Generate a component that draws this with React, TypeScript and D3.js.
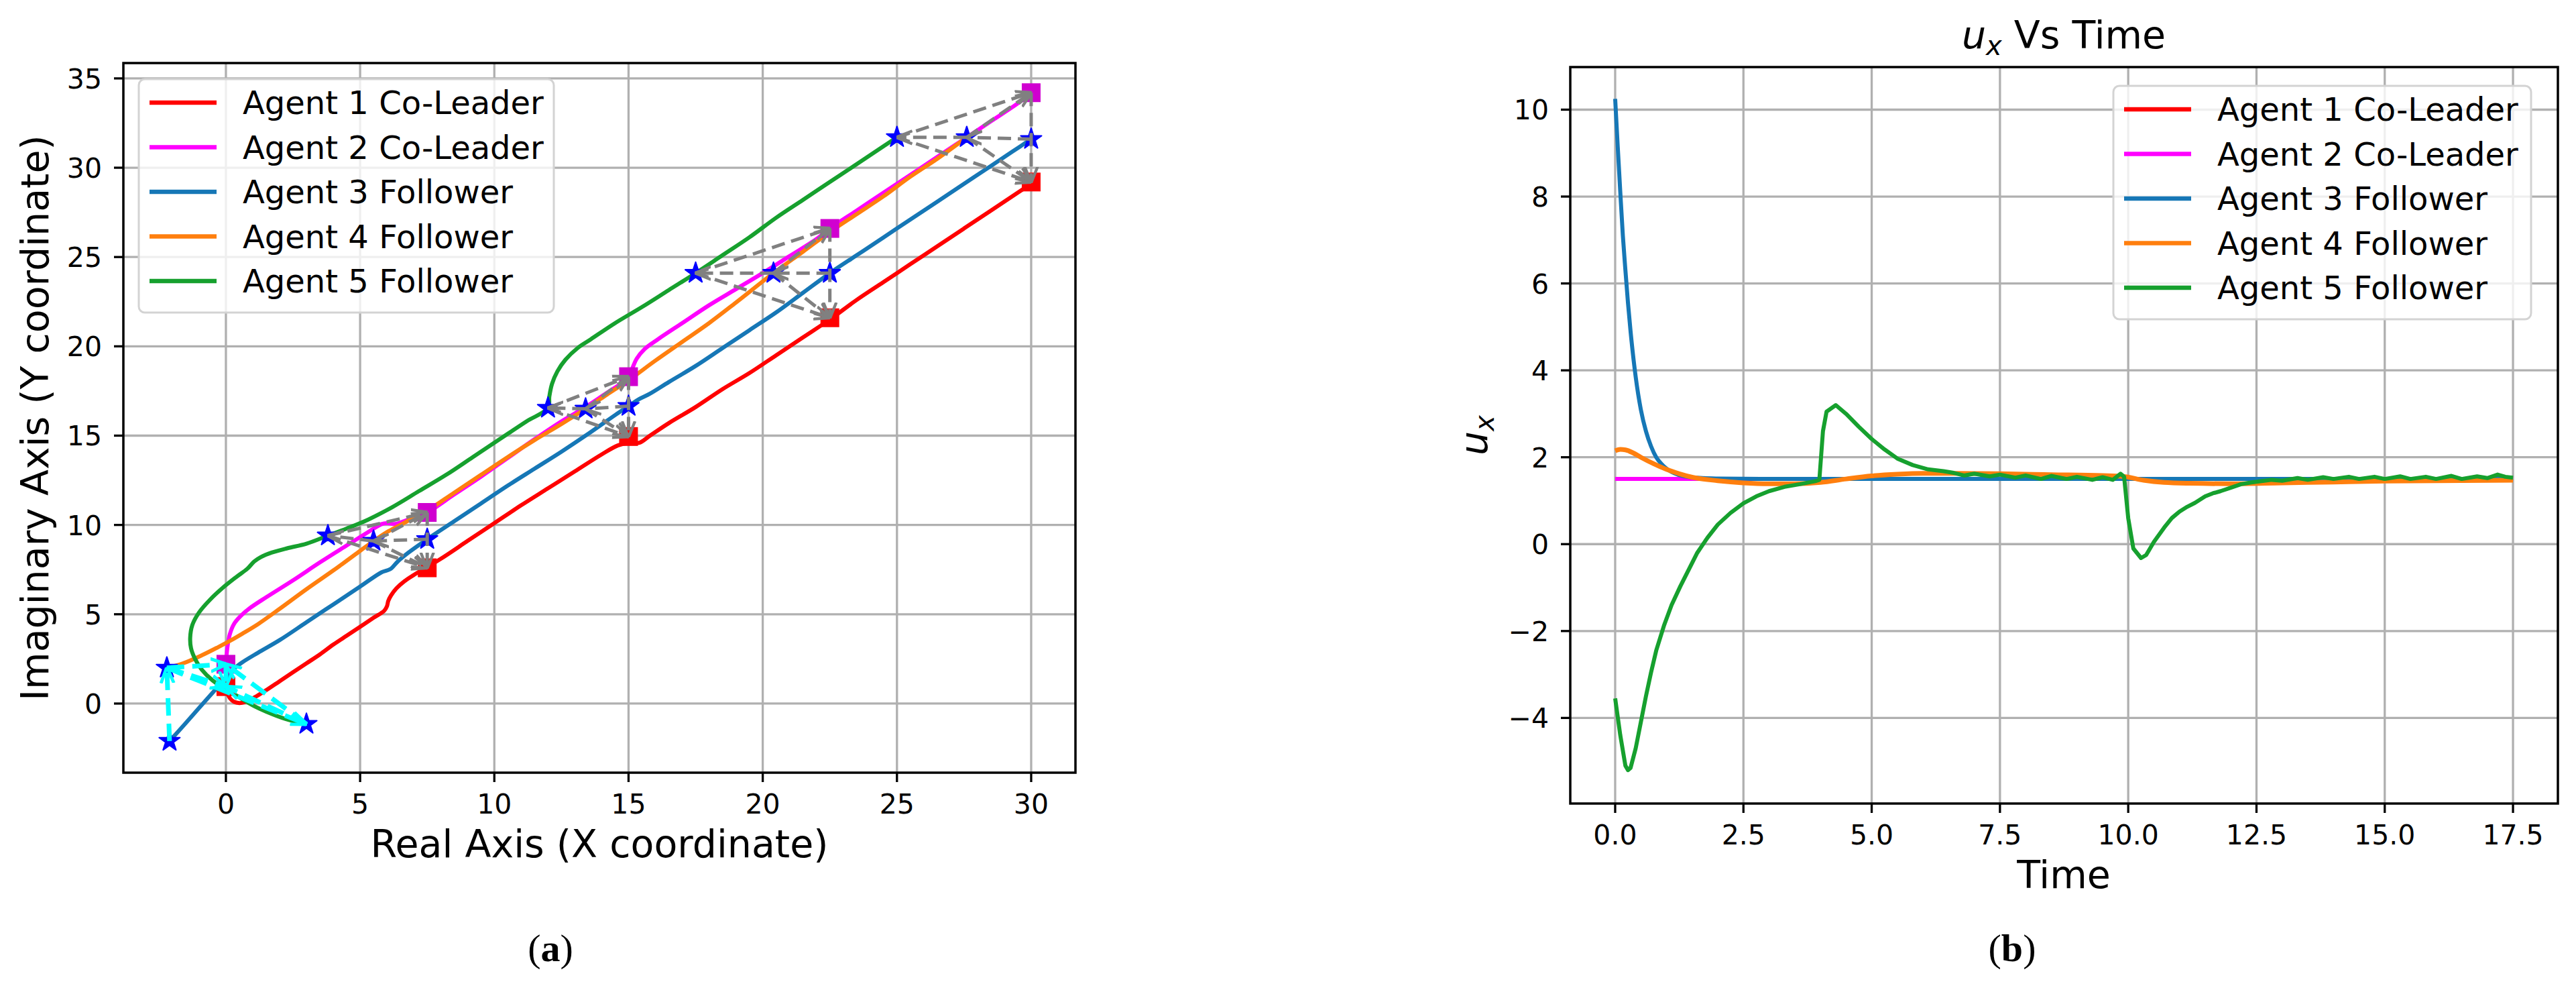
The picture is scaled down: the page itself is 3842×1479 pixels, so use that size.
import React from "react";
import * as d3 from "d3";

const FONT = "'DejaVu Sans', 'Liberation Sans', sans-serif";
const SERIF = "'Liberation Serif', 'DejaVu Serif', serif";

type P = [number, number];

// ---------- shared legend ----------
const agentLabels = ["Agent 1 Co-Leader", "Agent 2 Co-Leader", "Agent 3 Follower", "Agent 4 Follower", "Agent 5 Follower"];
const agentColors = ["#ff0000", "#ff00ff", "#1677b6", "#ff7f0e", "#16a02e"];

// ---------- panel (a): trajectories ----------
const trajAgent1: P[] = [[0,0.95],[0.05,0.6],[0.15,0.3],[0.3,0.1],[0.5,0.03],[0.7,0.08],[0.9,0.22],[1.15,0.42],[1.5,0.75],[2,1.25],[2.5,1.75],[3,2.25],[3.5,2.75],[4,3.3],[4.5,3.8],[5,4.3],[5.5,4.8],[5.9,5.2],[6.0,5.45],[6.05,5.75],[6.15,6.05],[6.35,6.45],[6.65,6.85],[7.0,7.2],[7.5,7.65],[8,8.1],[9,9.1],[10,10.1],[11,11.1],[12,12.05],[13,13.0],[14,13.95],[14.6,14.45],[15,14.6],[15.4,14.6],[15.8,15.0],[16.5,15.7],[17.5,16.6],[18.5,17.6],[19.5,18.5],[20.5,19.5],[21.5,20.5],[22.5,21.5],[23.5,22.6],[24.5,23.6],[25.5,24.6],[26.5,25.6],[27.5,26.6],[28.5,27.6],[29.5,28.6],[30,29.1]];
const trajAgent2: P[] = [[0,2.2],[0.03,2.8],[0.08,3.4],[0.15,3.9],[0.3,4.45],[0.55,4.9],[0.9,5.35],[1.5,5.95],[2.5,6.9],[3.5,7.9],[4.5,8.85],[5.3,9.6],[5.8,10.05],[6.0,10.1],[6.3,10.05],[6.7,10.25],[7.1,10.5],[7.5,10.7],[8.5,11.7],[9.5,12.7],[10.5,13.75],[11.5,14.8],[12.5,15.8],[13.4,16.6],[14.2,17.4],[14.8,18.0],[15.0,18.3],[15.15,18.8],[15.3,19.3],[15.6,19.85],[16.1,20.4],[17,21.3],[18,22.3],[19,23.2],[20,24.1],[21,25.05],[22,26.0],[22.5,26.6],[23.5,27.6],[24.5,28.6],[25.5,29.6],[26.5,30.6],[27.5,31.6],[28.5,32.6],[29.5,33.6],[30,34.2]];
const trajAgent3: P[] = [[-2.1,-2.1],[-1.5,-1.1],[-1,-0.25],[-0.5,0.6],[0,1.45],[0.3,1.95],[0.6,2.3],[1.2,2.85],[2,3.55],[3,4.55],[4,5.55],[5,6.55],[5.8,7.35],[6.0,7.45],[6.15,7.55],[6.4,7.95],[6.8,8.45],[7.5,9.2],[8.5,10.2],[9.5,11.2],[10.5,12.2],[11.5,13.15],[12.5,14.1],[13.5,15.1],[14.5,16.15],[15,16.65],[15.4,17.05],[15.8,17.35],[16.5,18.0],[17.5,18.9],[18.5,19.9],[19.5,20.9],[20.5,21.9],[21.5,23.0],[22.5,24.1],[23.5,25.1],[24.5,26.1],[25.5,27.1],[26.5,28.1],[27.5,29.1],[28.5,30.1],[29.3,30.9],[30,31.6]];
const trajAgent4: P[] = [[-2.2,2.0],[-1.6,2.25],[-0.9,2.7],[-0.3,3.15],[0.2,3.55],[0.6,3.9],[1.2,4.45],[2,5.3],[3,6.4],[4,7.45],[5,8.55],[5.5,9.1],[6,9.6],[6.5,10.0],[7,10.4],[7.5,10.8],[8.5,11.8],[9.5,12.8],[10.5,13.8],[11.5,14.75],[12.5,15.65],[13.4,16.5],[14.2,17.3],[15,18.1],[16,19.2],[17,20.25],[18,21.3],[19,22.45],[20.4,24.1],[21.5,25.3],[22.5,26.4],[23.5,27.4],[24.5,28.4],[25.5,29.5],[26.5,30.5],[27.6,31.7]];
const trajAgent5: P[] = [[3.0,-1.15],[2.2,-0.85],[1.5,-0.45],[1.0,-0.1],[0.5,0.35],[0,0.8],[-0.5,1.3],[-0.9,1.9],[-1.15,2.5],[-1.3,3.1],[-1.33,3.7],[-1.25,4.4],[-1.0,5.1],[-0.6,5.8],[-0.1,6.5],[0.4,7.1],[0.8,7.55],[1.05,7.95],[1.3,8.2],[1.7,8.45],[2.3,8.7],[3.0,8.95],[3.8,9.4],[4.5,9.8],[5.3,10.3],[6.2,11.0],[7.2,11.9],[8.2,12.8],[9.2,13.8],[10.2,14.8],[11.2,15.8],[12.0,16.55],[12.05,17.2],[12.15,17.9],[12.35,18.6],[12.65,19.25],[13.1,19.9],[13.6,20.4],[14.5,21.3],[15.5,22.2],[16.5,23.15],[17.5,24.1],[18.5,25.1],[19.5,26.1],[20.5,27.2],[21.5,28.2],[22.5,29.2],[23.5,30.2],[24.5,31.2],[25.0,31.7]];

// formation snapshots (positions of each agent at 5 instants)
const snapAgent1: P[] = [[0,0.95],[7.5,7.6],[15,14.95],[22.5,21.6],[30,29.2]];
const snapAgent2: P[] = [[0,2.2],[7.5,10.7],[15,18.3],[22.5,26.6],[30,34.2]];
const snapAgent3: P[] = [[-2.1,-2.1],[7.5,9.2],[15,16.65],[22.5,24.1],[30,31.6]];
const snapAgent4: P[] = [[-2.2,2.0],[5.5,9.1],[13.4,16.5],[20.4,24.1],[27.6,31.7]];
const snapAgent5: P[] = [[3.0,-1.15],[3.8,9.4],[12.0,16.55],[17.5,24.1],[25.0,31.7]];
// directed formation edges (agent numbers)
const formationEdges: [number, number][] = [[5,2],[4,2],[3,4],[4,5],[5,1],[4,1],[2,1]];

const xTicksA = [0, 5, 10, 15, 20, 25, 30];
const yTicksA = [0, 5, 10, 15, 20, 25, 30, 35];

// ---------- panel (b): u_x vs time ----------
const uxAgent1: P[] = [[0,1.5],[17.5,1.5]];
const uxAgent2: P[] = [[0,1.5],[17.5,1.5]];
const uxAgent3: P[] = [[0,10.25],[0.05,9.15],[0.1,8.1],[0.15,7.1],[0.2,6.3],[0.25,5.55],[0.3,4.9],[0.4,3.85],[0.5,3.1],[0.6,2.6],[0.7,2.25],[0.8,2.0],[0.9,1.85],[1.0,1.74],[1.2,1.61],[1.4,1.55],[1.7,1.52],[2,1.51],[3,1.5],[17.5,1.5]];
const uxAgent4: P[] = [[0,2.15],[0.1,2.18],[0.2,2.17],[0.35,2.1],[0.5,2.0],[0.75,1.85],[1.0,1.72],[1.25,1.62],[1.5,1.54],[2.0,1.46],[2.5,1.41],[3.0,1.39],[3.5,1.39],[4.0,1.42],[4.5,1.5],[5.0,1.57],[5.5,1.61],[6.0,1.63],[6.5,1.63],[7.5,1.62],[8.5,1.6],[9.5,1.58],[9.9,1.56],[10.3,1.47],[10.7,1.42],[11.2,1.4],[12,1.39],[13,1.41],[14,1.43],[15,1.45],[16,1.46],[17.5,1.47]];
const uxAgent5: P[] = [[0,-3.55],[0.1,-4.4],[0.2,-5.1],[0.25,-5.2],[0.3,-5.15],[0.4,-4.7],[0.5,-4.1],[0.6,-3.5],[0.7,-2.95],[0.8,-2.45],[0.95,-1.88],[1.1,-1.4],[1.27,-0.97],[1.45,-0.55],[1.6,-0.2],[1.8,0.15],[2.0,0.45],[2.25,0.72],[2.5,0.94],[2.75,1.1],[3.0,1.22],[3.3,1.32],[3.6,1.38],[3.9,1.45],[3.98,1.48],[4.05,2.6],[4.12,3.05],[4.3,3.2],[4.5,3.0],[4.75,2.7],[5.0,2.42],[5.25,2.18],[5.5,1.97],[5.8,1.82],[6.1,1.72],[6.4,1.68],[6.6,1.64],[6.8,1.58],[7.0,1.62],[7.3,1.56],[7.5,1.6],[7.8,1.53],[8.0,1.58],[8.3,1.5],[8.5,1.57],[8.8,1.5],[9.0,1.55],[9.3,1.48],[9.5,1.54],[9.7,1.48],[9.85,1.62],[9.92,1.55],[10.0,0.6],[10.1,-0.1],[10.25,-0.32],[10.35,-0.25],[10.5,0.05],[10.7,0.38],[10.85,0.6],[11.0,0.75],[11.15,0.86],[11.3,0.95],[11.5,1.1],[11.65,1.17],[11.8,1.22],[12.0,1.3],[12.2,1.38],[12.4,1.42],[12.6,1.45],[12.8,1.48],[13.0,1.46],[13.3,1.52],[13.5,1.48],[13.8,1.54],[14.0,1.5],[14.3,1.55],[14.5,1.5],[14.8,1.55],[15.0,1.5],[15.3,1.56],[15.5,1.5],[15.8,1.55],[16.0,1.5],[16.3,1.57],[16.5,1.5],[16.8,1.56],[17.0,1.52],[17.2,1.6],[17.35,1.55],[17.5,1.53]];

const xTicksB = [0, 2.5, 5, 7.5, 10, 12.5, 15, 17.5];
const yTicksB = [-4, -2, 0, 2, 4, 6, 8, 10];

// ---------- scales ----------
const xA = d3.scaleLinear().domain([-3.82, 31.65]).range([184, 1604]);
const yA = d3.scaleLinear().domain([-3.87, 35.86]).range([1152, 94]);
const xB = d3.scaleLinear().domain([-0.875, 18.375]).range([2342, 3815]);
const yB = d3.scaleLinear().domain([-5.97, 10.98]).range([1198, 100]);

const GRID = "#b0b0b0";
const TICK_FS = 41;
const LABEL_FS = 57;
const LEG_FS = 48;

const fmtMinus = (v: number, s: string) => (v < 0 ? "\u2212" + s.replace("-", "") : s);

function Frame({ x, y, xTicks, yTicks, xFmt, yFmt }: any) {
  const [l, r] = x.range();
  const [b, t] = y.range();
  return (
    <g>
      {xTicks.map((v: number) => (
        <g key={"x" + v}>
          <line x1={x(v)} x2={x(v)} y1={b} y2={b + 14} stroke="#000" strokeWidth={3.3} />
          <text x={x(v)} y={b + 61} textAnchor="middle" fontFamily={FONT} fontSize={TICK_FS} fill="#000">{xFmt(v)}</text>
        </g>
      ))}
      {yTicks.map((v: number) => (
        <g key={"y" + v}>
          <line x1={l - 14} x2={l} y1={y(v)} y2={y(v)} stroke="#000" strokeWidth={3.3} />
          <text x={l - 32} y={y(v) + 15} textAnchor="end" fontFamily={FONT} fontSize={TICK_FS} fill="#000">{yFmt(v)}</text>
        </g>
      ))}
      <rect x={l} y={t} width={r - l} height={b - t} fill="none" stroke="#000" strokeWidth={3.5} />
    </g>
  );
}

function Grid({ x, y, xTicks, yTicks }: any) {
  const [l, r] = x.range();
  const [b, t] = y.range();
  return (
    <g>
      {xTicks.map((v: number) => (
        <line key={"gx" + v} x1={x(v)} x2={x(v)} y1={t} y2={b} stroke={GRID} strokeWidth={3.3} />
      ))}
      {yTicks.map((v: number) => (
        <line key={"gy" + v} x1={l} x2={r} y1={y(v)} y2={y(v)} stroke={GRID} strokeWidth={3.3} />
      ))}
    </g>
  );
}

function Legend({ left, top, right, bottom }: any) {
  const rowH = 66.5;
  return (
    <g>
      <rect x={left} y={top} width={right - left} height={bottom - top} rx={9} fill="#ffffff" fillOpacity={0.8} stroke="#d3d3d3" strokeWidth={3} />
      {agentLabels.map((lab, i) => {
        const cy = top + 35 + i * rowH;
        return (
          <g key={lab}>
            <line x1={left + 16} x2={left + 116} y1={cy} y2={cy} stroke={agentColors[i]} strokeWidth={6.5} />
            <text x={left + 155} y={cy + 17} fontFamily={FONT} fontSize={LEG_FS} fill="#000">{lab}</text>
          </g>
        );
      })}
    </g>
  );
}

export default function App() {
  const lineA = d3.line<P>().x((d) => xA(d[0])).y((d) => yA(d[1])).curve(d3.curveCatmullRom.alpha(0.5));
  const lineBsmooth = d3.line<P>().x((d) => xB(d[0])).y((d) => yB(d[1])).curve(d3.curveMonotoneX);
  const lineBlin = d3.line<P>().x((d) => xB(d[0])).y((d) => yB(d[1]));

  const trajs = [trajAgent1, trajAgent2, trajAgent3, trajAgent4, trajAgent5];
  const snaps = [snapAgent1, snapAgent2, snapAgent3, snapAgent4, snapAgent5];
  const star = d3.symbol().type(d3.symbolStar).size(300)() as string;
  const sq = 28;

  const uxSeries = [uxAgent1, uxAgent2, uxAgent3, uxAgent4, uxAgent5];

  return (
    <svg width={3842} height={1479} style={{ position: "absolute", left: 0, top: 0, background: "#fff" }}>
      <defs>
        <clipPath id="clipA"><rect x={184} y={94} width={1420} height={1058} /></clipPath>
        <clipPath id="clipB"><rect x={2342} y={100} width={1473} height={1098} /></clipPath>
        <marker id="arrGray" viewBox="0 0 10 10" refX={9.5} refY={5} markerWidth={24} markerHeight={24} markerUnits="userSpaceOnUse" orient="auto">
          <path d="M0,1 L10,5 L0,9" fill="none" stroke="#808080" strokeWidth={1.8} strokeDasharray="none" />
        </marker>
        <marker id="arrCyan" viewBox="0 0 10 10" refX={9.5} refY={5} markerWidth={24} markerHeight={24} markerUnits="userSpaceOnUse" orient="auto">
          <path d="M0,1 L10,5 L0,9" fill="none" stroke="#00ffff" strokeWidth={2} strokeDasharray="none" />
        </marker>
      </defs>
      <rect x={0} y={0} width={3842} height={1479} fill="#fff" />

      {/* ---------------- Panel (a) ---------------- */}
      <Grid x={xA} y={yA} xTicks={xTicksA} yTicks={yTicksA} />
      <g clipPath="url(#clipA)">
        {trajs.map((tr, i) => (
          <path key={"tr" + i} d={lineA(tr) as string} fill="none" stroke={agentColors[i]} strokeWidth={6} strokeLinejoin="round" />
        ))}
        {snapAgent1.map((p, k) => (
          <rect key={"s1" + k} x={xA(p[0]) - sq / 2} y={yA(p[1]) - sq / 2} width={sq} height={sq} fill="#ff0000" />
        ))}
        {snapAgent2.map((p, k) => (
          <rect key={"s2" + k} x={xA(p[0]) - sq / 2} y={yA(p[1]) - sq / 2} width={sq} height={sq} fill="#d000d0" />
        ))}
        {[snapAgent3, snapAgent4, snapAgent5].map((sn, j) =>
          sn.map((p, k) => (
            <path key={"st" + j + "_" + k} d={star} transform={`translate(${xA(p[0])},${yA(p[1])})`} fill="#0000ff" stroke="#0000ff" strokeWidth={2} strokeLinejoin="round" />
          ))
        )}
        {snapAgent1.map((_, k) =>
          formationEdges.map(([a, b], e) => {
            const pa = snaps[a - 1][k];
            const pb = snaps[b - 1][k];
            const cyan = k === 0;
            return (
              <line
                key={"fe" + k + "_" + e}
                x1={xA(pa[0])} y1={yA(pa[1])} x2={xA(pb[0])} y2={yA(pb[1])}
                stroke={cyan ? "#00ffff" : "#808080"}
                strokeWidth={cyan ? 7 : 5}
                strokeDasharray={cyan ? "26 12" : "20 10"}
                markerEnd={cyan ? "url(#arrCyan)" : "url(#arrGray)"}
              />
            );
          })
        )}
      </g>
      <Frame x={xA} y={yA} xTicks={xTicksA} yTicks={yTicksA} xFmt={(v: number) => fmtMinus(v, String(v))} yFmt={(v: number) => fmtMinus(v, String(v))} />
      <Legend left={207} top={118} right={826} bottom={466} />
      <text x={894} y={1278} textAnchor="middle" fontFamily={FONT} fontSize={LABEL_FS} fill="#000">Real Axis (X coordinate)</text>
      <text transform="translate(72,623) rotate(-90)" textAnchor="middle" fontFamily={FONT} fontSize={LABEL_FS} fill="#000">Imaginary Axis (Y coordinate)</text>
      <text x={821} y={1433} textAnchor="middle" fontFamily={SERIF} fontSize={58} fill="#000">(<tspan fontWeight="bold">a</tspan>)</text>

      {/* ---------------- Panel (b) ---------------- */}
      <Grid x={xB} y={yB} xTicks={xTicksB} yTicks={yTicksB} />
      <g clipPath="url(#clipB)">
        {uxSeries.map((s, i) => (
          <path key={"ux" + i} d={(i === 4 ? lineBlin(s) : lineBsmooth(s)) as string} fill="none" stroke={agentColors[i]} strokeWidth={i === 3 ? 7 : 6} strokeLinejoin="round" />
        ))}
      </g>
      <Frame x={xB} y={yB} xTicks={xTicksB} yTicks={yTicksB} xFmt={(v: number) => d3.format(".1f")(v)} yFmt={(v: number) => fmtMinus(v, String(v))} />
      <Legend left={3152} top={128} right={3775} bottom={476} />
      <text x={3078} y={1324} textAnchor="middle" fontFamily={FONT} fontSize={LABEL_FS} fill="#000">Time</text>
      <text transform="translate(2218,649) rotate(-90)" textAnchor="middle" fontFamily={FONT} fontSize={LABEL_FS} fill="#000">
        <tspan fontStyle="italic">u</tspan>
        <tspan fontStyle="italic" fontSize={40} dy={10}>x</tspan>
      </text>
      <text x={3078} y={72} textAnchor="middle" fontFamily={FONT} fontSize={LABEL_FS} fill="#000">
        <tspan fontStyle="italic">u</tspan>
        <tspan fontStyle="italic" fontSize={40} dy={10}>x</tspan>
        <tspan dy={-10}> Vs Time</tspan>
      </text>
      <text x={3001} y={1433} textAnchor="middle" fontFamily={SERIF} fontSize={58} fill="#000">(<tspan fontWeight="bold">b</tspan>)</text>
    </svg>
  );
}
